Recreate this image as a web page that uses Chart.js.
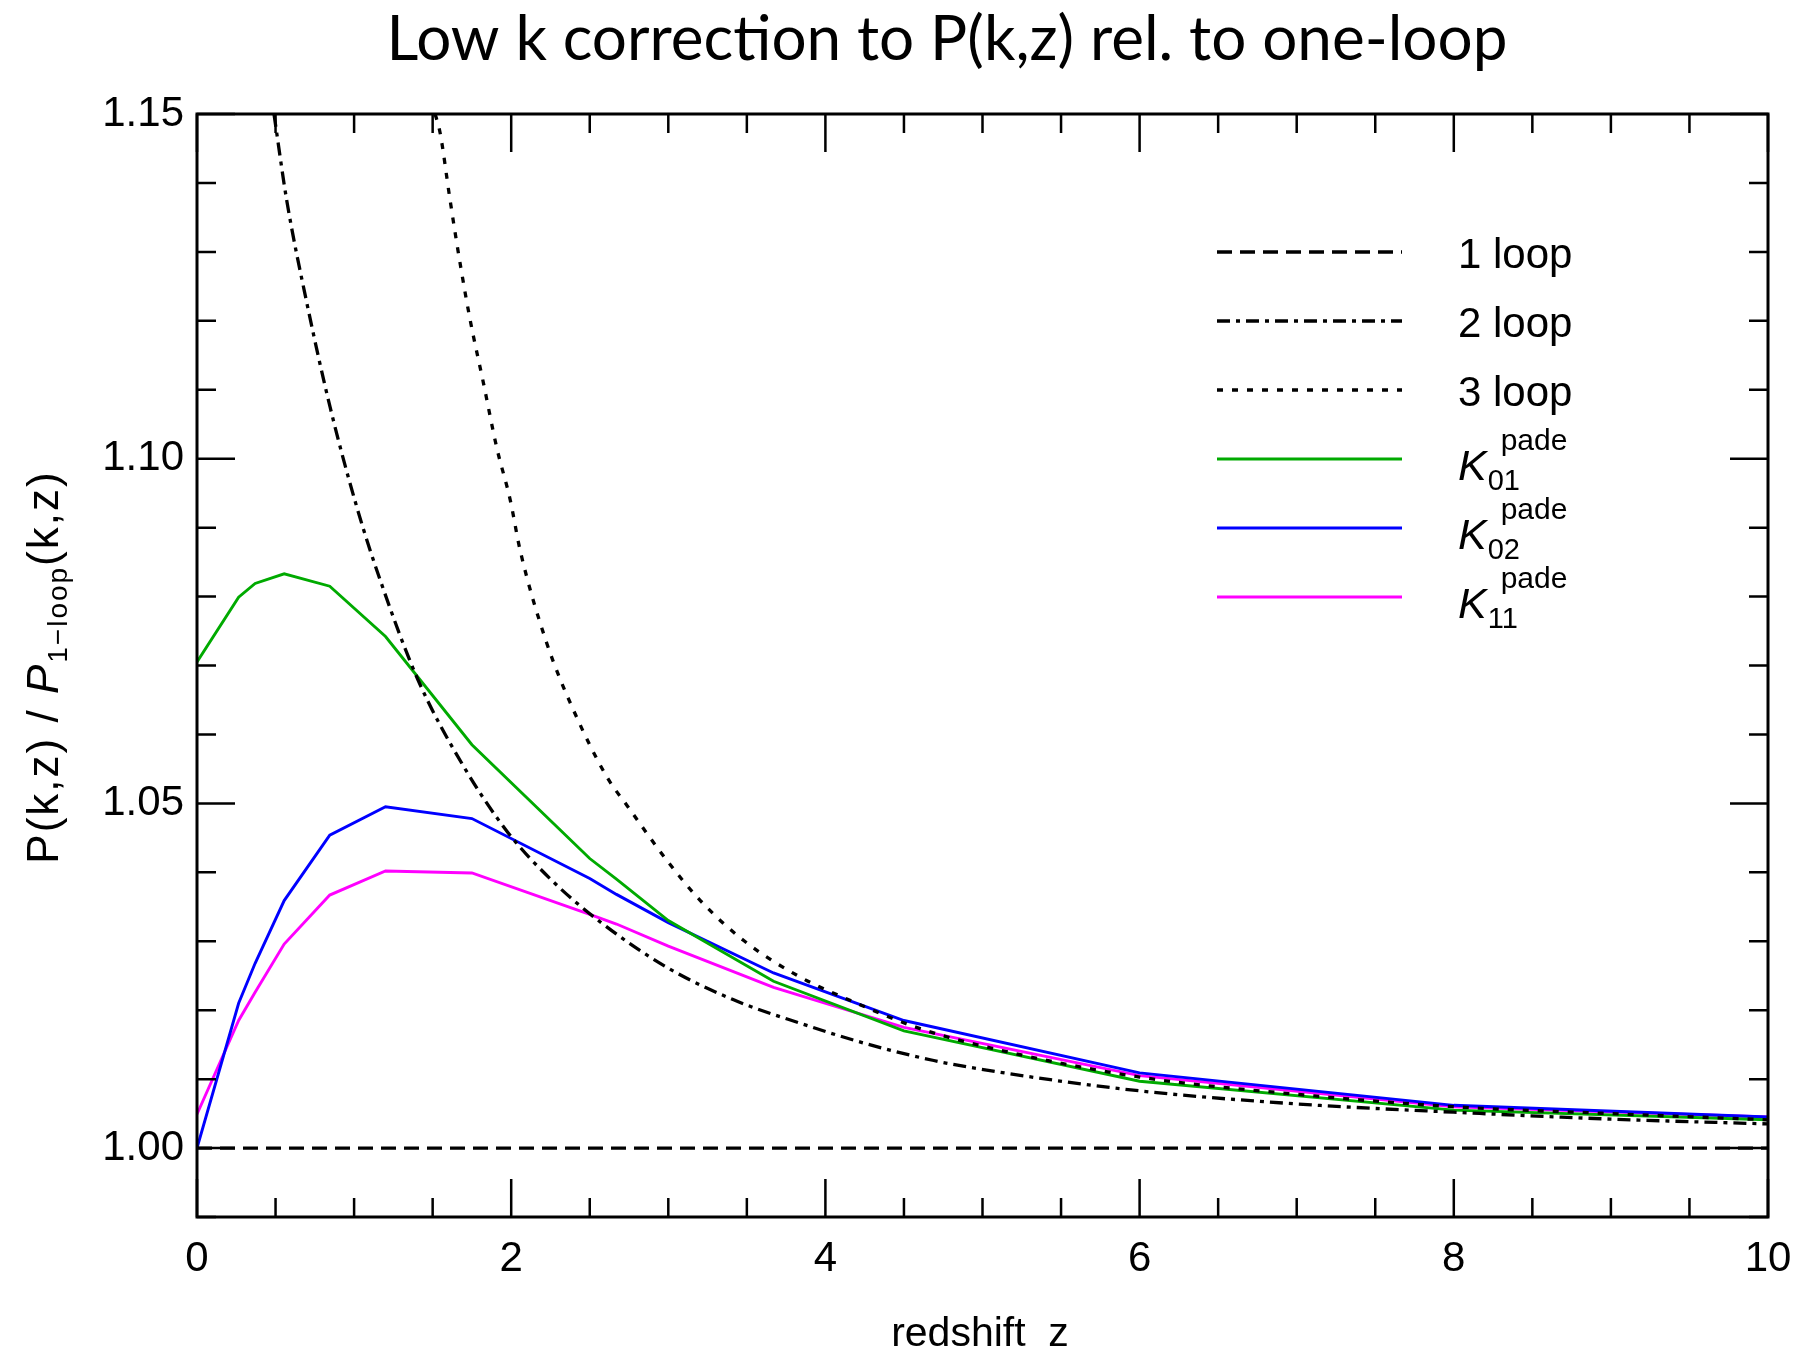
<!DOCTYPE html>
<html>
<head>
<meta charset="utf-8">
<script src="https://cdn.jsdelivr.net/npm/chart.js@4.4.1/dist/chart.umd.min.js"></script>
<style>
  body { margin: 0; background: #fff; }
  #wrap { width: 1801px; height: 1353px; }
</style>
</head>
<body>
<div id="wrap"><canvas id="lowkChart" width="1801" height="1353"></canvas></div>
<script>
// pade curves share one redshift grid
const zPade = [0, 0.265, 0.37, 0.555, 0.845, 1.2, 1.75, 2.5, 2.67, 3.0, 3.67, 4.5, 6, 8, 10];
const k01Data = [1.0705, 1.0799, 1.0819, 1.0833, 1.0815, 1.0742, 1.0585, 1.0420, 1.0390, 1.0330, 1.0242, 1.0170, 1.0097, 1.0055, 1.0041];
const k02Data = [1.0000, 1.0210, 1.0268, 1.0359, 1.0454, 1.0495, 1.0478, 1.0391, 1.0368, 1.0327, 1.0254, 1.0185, 1.0109, 1.0062, 1.0045];
const k11Data = [1.0049, 1.0185, 1.0226, 1.0296, 1.0367, 1.0402, 1.0399, 1.0339, 1.0325, 1.0293, 1.0233, 1.0175, 1.0105, 1.0060, 1.0045];

// perturbative curves
const zOneLoop = [0, 10];
const oneLoopData = [1.0, 1.0];
const zTwoLoop = [0.49, 0.571, 0.70, 0.847, 1.017, 1.166, 1.407, 1.691, 1.975, 2.26, 2.567, 2.992, 3.416, 3.84, 4.265, 4.69, 5.11, 6.0, 7.0, 8.0, 9.0, 10];
const twoLoopData = [1.150, 1.1375, 1.1225, 1.1075, 1.0930, 1.0824, 1.0679, 1.0556, 1.0459, 1.0388, 1.0328, 1.0262, 1.0215, 1.0181, 1.0151, 1.0127, 1.0110, 1.0083, 1.0064, 1.0052, 1.0042, 1.0035];
const zThreeLoop = [1.516, 1.548, 1.611, 1.675, 1.739, 1.824, 1.909, 1.994, 2.057, 2.227, 2.397, 2.61, 2.737, 2.992, 3.204, 3.48, 3.84, 4.16, 4.58, 5, 6, 7, 8, 9, 10];
const threeLoopData = [1.150, 1.1472, 1.1375, 1.1283, 1.1201, 1.1109, 1.1015, 1.0940, 1.0867, 1.0732, 1.0635, 1.0538, 1.0497, 1.0417, 1.0359, 1.0301, 1.0248, 1.0214, 1.0175, 1.0148, 1.0103, 1.0078, 1.0060, 1.0050, 1.0041];

const xTickLabels = [0, 2, 4, 6, 8, 10];
const yTickLabels = [1.00, 1.05, 1.10, 1.15];
const legendSubs = ['', '', '', '01', '02', '11'];

function pts(xs, ys) {
  return xs.map((x, i) => ({ x: x, y: ys[i] }));
}

const FONT = '"Liberation Sans", Arial, sans-serif';

const framePlugin = {
  id: 'frame',
  afterDatasetsDraw(chart) {
    const ctx = chart.ctx;
    const a = chart.chartArea;
    const xs = chart.scales.x, ys = chart.scales.y;
    ctx.save();
    ctx.strokeStyle = '#000';
    ctx.lineWidth = 3;
    ctx.strokeRect(a.left, a.top, a.right - a.left, a.bottom - a.top);

    // inward ticks on all four sides
    ctx.lineWidth = 2.5;
    ctx.beginPath();
    for (let i = 0; i <= 20; i++) {
      const v = i * 0.5;
      const len = (i % 4 === 0) ? 38 : 19;
      const px = xs.getPixelForValue(v);
      ctx.moveTo(px, a.bottom); ctx.lineTo(px, a.bottom - len);
      ctx.moveTo(px, a.top); ctx.lineTo(px, a.top + len);
    }
    for (let i = 99; i <= 115; i++) {
      const v = i / 100;
      const len = (i % 5 === 0) ? 38 : 19;
      const py = ys.getPixelForValue(v);
      ctx.moveTo(a.left, py); ctx.lineTo(a.left + len, py);
      ctx.moveTo(a.right, py); ctx.lineTo(a.right - len, py);
    }
    ctx.stroke();
    ctx.restore();
  },
  afterDraw(chart) {
    const ctx = chart.ctx;
    ctx.save();
    ctx.fillStyle = '#000';
    ctx.textBaseline = 'alphabetic';

    // title
    ctx.font = '62px Lato, "Open Sans", sans-serif';
    ctx.textAlign = 'center';
    ctx.fillText('Low k correction to P(k,z) rel. to one-loop', 947, 60);

    // x title
    ctx.font = '41px ' + FONT;
    ctx.fillText('redshift  z', 980, 1346);

    // y title, rotated, with subscript
    const parts = [
      { t: 'P(k,z) / ', f: '44px ' + FONT, dy: 0 },
      { t: 'P', f: 'italic 44px ' + FONT, dy: 0 },
      { t: '1\u2212loop', f: '28px ' + FONT, dy: 9 },
      { t: '(k,z)', f: '44px ' + FONT, dy: 0 }
    ];
    ctx.textAlign = 'left';
    ctx.letterSpacing = '2px';
    let total = 0;
    parts.forEach(p => { ctx.font = p.f; p.w = ctx.measureText(p.t).width; total += p.w; });
    ctx.translate(58, 667);
    ctx.rotate(-Math.PI / 2);
    let cx = -total / 2;
    parts.forEach(p => { ctx.font = p.f; ctx.fillText(p.t, cx, p.dy); cx += p.w; });
    ctx.setTransform(1, 0, 0, 1, 0, 0);
    ctx.letterSpacing = '0px';

    // legend
    chart.data.datasets.forEach((ds, i) => {
      const y = 252 + i * 69;
      ctx.save();
      ctx.strokeStyle = ds.borderColor;
      ctx.lineWidth = ds.borderWidth;
      ctx.setLineDash(ds.borderDash || []);
      ctx.beginPath();
      ctx.moveTo(1217, y);
      ctx.lineTo(1402, y);
      ctx.stroke();
      ctx.restore();
      if (legendSubs[i] === '') {
        ctx.font = '42px ' + FONT;
        ctx.fillText(ds.label, 1458, y + 16);
      } else {
        ctx.font = 'italic 43px ' + FONT;
        ctx.fillText('K', 1458, y + 21);
        const kw = ctx.measureText('K').width;
        ctx.font = '29px ' + FONT;
        ctx.fillText(legendSubs[i], 1458 + kw + 1, y + 31);
        ctx.font = '30px ' + FONT;
        ctx.fillText('pade', 1458 + kw + 14, y - 9);
      }
    });
    ctx.restore();
  }
};

const data = {
  datasets: [
    {
      label: '1 loop',
      data: pts(zOneLoop, oneLoopData),
      borderColor: '#000',
      borderWidth: 3.3,
      borderDash: [15, 8],
      tension: 0
    },
    {
      label: '2 loop',
      data: pts(zTwoLoop, twoLoopData),
      borderColor: '#000',
      borderWidth: 3.3,
      borderDash: [13, 6, 4, 6],
      cubicInterpolationMode: 'monotone'
    },
    {
      label: '3 loop',
      data: pts(zThreeLoop, threeLoopData),
      borderColor: '#000',
      borderWidth: 3.3,
      borderDash: [6, 9],
      cubicInterpolationMode: 'monotone'
    },
    {
      label: 'K01 pade',
      data: pts(zPade, k01Data),
      borderColor: '#00aa00',
      borderWidth: 2.9,
      tension: 0
    },
    {
      label: 'K02 pade',
      data: pts(zPade, k02Data),
      borderColor: '#0000ff',
      borderWidth: 2.9,
      tension: 0
    },
    {
      label: 'K11 pade',
      data: pts(zPade, k11Data),
      borderColor: '#ff00ff',
      borderWidth: 2.9,
      tension: 0
    }
  ]
};

const config = {
  type: 'line',
  data: data,
  options: {
    responsive: false,
    animation: false,
    layout: { padding: { left: 0, right: 33, top: 114, bottom: 0 } },
    elements: { point: { radius: 0 } },
    plugins: {
      legend: { display: false },
      tooltip: { enabled: false }
    },
    scales: {
      x: {
        type: 'linear',
        min: 0,
        max: 10,
        grid: { display: false, drawTicks: false },
        border: { display: false },
        ticks: {
          color: '#000',
          padding: 17,
          maxRotation: 0,
          font: { family: FONT, size: 42 },
          callback: v => String(v)
        },
        afterBuildTicks: s => { s.ticks = xTickLabels.map(v => ({ value: v })); },
        // keep the frame where it is, labels may hang over the padding
        afterFit: s => { s.height = 136; s.paddingLeft = 0; s.paddingRight = 0; }
      },
      y: {
        type: 'linear',
        min: 0.99,
        max: 1.15,
        grid: { display: false, drawTicks: false },
        border: { display: false },
        ticks: {
          color: '#000',
          padding: 13,
          font: { family: FONT, size: 42 },
          callback: v => v.toFixed(2)
        },
        afterBuildTicks: s => { s.ticks = yTickLabels.map(v => ({ value: v })); },
        afterFit: s => { s.width = 197; s.paddingTop = 0; s.paddingBottom = 0; }
      }
    }
  },
  plugins: [framePlugin]
};

const lowkCanvas = document.getElementById('lowkChart').getContext('2d');
const lowkChart = new Chart(lowkCanvas, config);
</script>
</body>
</html>
